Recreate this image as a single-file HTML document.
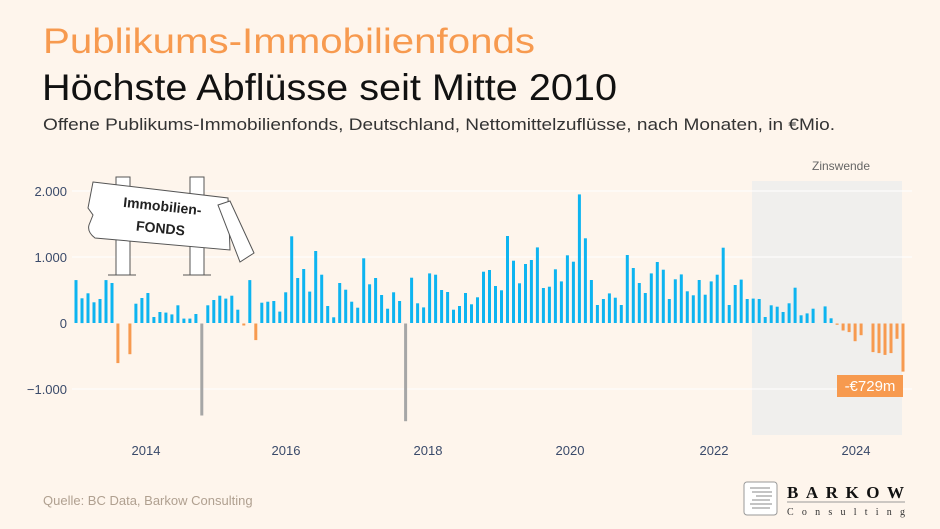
<!DOCTYPE html>
<html><head><meta charset="utf-8">
<style>
html,body{margin:0;padding:0;background:#fef5ec;}
svg{display:block;font-family:"Liberation Sans",sans-serif;}
</style></head>
<body>
<svg id="s" width="940" height="529" viewBox="0 0 940 529" xmlns="http://www.w3.org/2000/svg">
<rect width="940" height="529" fill="#fef5ec"/>
<text x="43" y="53" font-size="35" fill="#f79a4f" textLength="492" lengthAdjust="spacingAndGlyphs">Publikums-Immobilienfonds</text>
<text x="42" y="100" font-size="37" fill="#111" textLength="575" lengthAdjust="spacingAndGlyphs">Höchste Abflüsse seit Mitte 2010</text>
<text x="43" y="130" font-size="17" fill="#333" textLength="792" lengthAdjust="spacingAndGlyphs">Offene Publikums-Immobilienfonds, Deutschland, Nettomittelzuflüsse, nach Monaten, in €Mio.</text>
<rect x="752" y="181" width="150" height="254" fill="#f0efed"/>
<text x="812" y="170" font-size="12" fill="#666">Zinswende</text>
<g stroke="#ffffff" stroke-width="1">
<line x1="72" x2="912" y1="191" y2="191"/>
<line x1="72" x2="912" y1="257" y2="257"/>
<line x1="72" x2="912" y1="389" y2="389"/>
</g>
<g font-size="13" fill="#3a4a6a" text-anchor="end">
<text x="67" y="196">2.000</text>
<text x="67" y="262">1.000</text>
<text x="67" y="328">0</text>
<text x="67" y="394">−1.000</text>
</g>
<g font-size="13" fill="#3a4a6a" text-anchor="middle">
<text x="146" y="455">2014</text>
<text x="286" y="455">2016</text>
<text x="428" y="455">2018</text>
<text x="570" y="455">2020</text>
<text x="714" y="455">2022</text>
<text x="856" y="455">2024</text>
</g>
<g id="bars"></g>
<!-- sign -->
<g stroke="#555" stroke-width="1" fill="#fff">
<rect x="116" y="177" width="14" height="98"/>
<rect x="190" y="177" width="14" height="98"/>
<line x1="108" y1="275" x2="136" y2="275"/>
<line x1="183" y1="275" x2="211" y2="275"/>
<path d="M93,182 L228,198 L230,250 L95,238 Q87,232 89,225 L93,215 L88,208 Z"/>
<path d="M218,205 L230,201 L254,253 L240,262 Z"/>
</g>
<text x="162" y="211" font-size="14" font-weight="bold" fill="#222" text-anchor="middle" transform="rotate(6 162 211)">Immobilien-</text>
<text x="160" y="233" font-size="14" font-weight="bold" fill="#222" text-anchor="middle" transform="rotate(6 160 233)">FONDS</text>
<rect x="837" y="375" width="66" height="22" fill="#f79a4f"/>
<text x="870" y="391" font-size="15" fill="#fff" text-anchor="middle">-€729m</text>
<text x="43" y="505" font-size="13" fill="#b0a090">Quelle: BC Data, Barkow Consulting</text>
<rect x="744" y="482" width="33" height="33" rx="3" fill="#fff" stroke="#999"/>
<g stroke="#888" stroke-width="1"><line x1="750" y1="488" x2="770" y2="488"/><line x1="752" y1="492" x2="772" y2="492"/><line x1="756" y1="496" x2="772" y2="496"/><line x1="752" y1="500" x2="770" y2="500"/><line x1="750" y1="504" x2="772" y2="504"/><line x1="752" y1="508" x2="770" y2="508"/></g>
<text x="787" y="498" font-size="17" font-family="Liberation Serif,serif" font-weight="bold" fill="#111" textLength="117" lengthAdjust="spacing">BARKOW</text>
<line x1="787" y1="502" x2="905" y2="502" stroke="#999"/>
<text x="787" y="515" font-size="10" font-family="Liberation Serif,serif" fill="#333" textLength="118" lengthAdjust="spacing">Consulting</text>
</svg>
<script>
var v=[650,375,450,313,364,650,606,-600,0,-465,293,379,455,91,167,157,131,268,66,66,136,-1394,268,348,414,369,414,202,-30,650,-252,308,323,333,172,465,1313,682,818,475,1091,732,258,86,606,505,323,232,980,586,682,424,217,465,333,-1480,687,298,237,752,732,500,470,202,258,455,283,389,
778,803,561,495,1318,944,601,894,954,1146,530,550,813,631,1025,929,1949,1283,651,273,364,449,384,273,1030,833,606,455,752,924,808,364,662,737,480,419,651,429,631,732,1141,273,576,657,364,369,364,91,268,247,167,298,535,116,146,217,0,252,71,-20,-106,-131,-268,-177,0,-434,-449,-475,-449,-232,-729];
var g=document.getElementById('bars'),n=v.length,x0=76,x1=903,s=(x1-x0)/(n-1),h='';
for(var i=0;i<n;i++){var val=v[i];if(!val)continue;var c=val>0?'#0db4f0':(val<-1000?'#a6a6a6':'#f79a4f');
var y=val>0?323-val*0.066:323.5,hh=Math.abs(val)*0.066;var x=x0+i*s-1.5;
h+='<rect x="'+x.toFixed(1)+'" y="'+y.toFixed(1)+'" width="3" height="'+hh.toFixed(1)+'" fill="'+c+'"/>';}
g.innerHTML=h;
</script>
</body></html>
